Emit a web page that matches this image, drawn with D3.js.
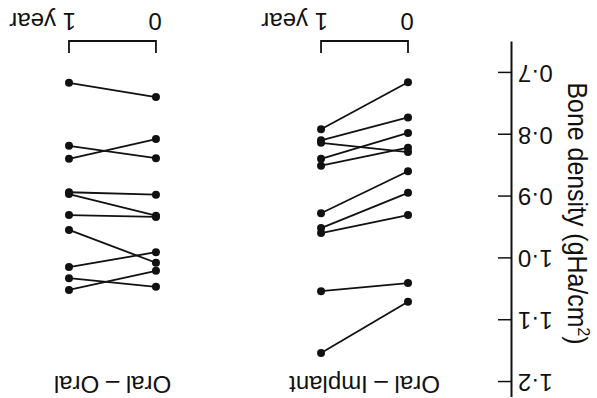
<!DOCTYPE html>
<html>
<head>
<meta charset="utf-8">
<script src="https://cdn.jsdelivr.net/npm/d3@7"></script>
<style>
  body { margin: 0; background: #fff; }
  text { font-family: "Liberation Sans", Arial, sans-serif; fill: #111; }
</style>
</head>
<body>
<svg id="chart" width="597" height="398"></svg>
<script>
// DATA
const groups = ["Oral – Implant", "Oral – Oral"];
const times = ["0", "1 year"];
const yTicks = [0.7, 0.8, 0.9, 1.0, 1.1, 1.2];

// bone density at start (0) and after 1 year, one entry per patient
const implantStart = [0.715, 0.772, 0.797, 0.828, 0.821, 0.859, 0.894, 0.930, 1.040, 1.070];
const implantYear1 = [0.791, 0.809, 0.839, 0.813, 0.850, 0.927, 0.951, 0.959, 1.053, 1.153];
const oralStart = [0.739, 0.838, 0.807, 0.897, 0.931, 0.933, 1.007, 0.990, 1.046, 1.020];
const oralYear1 = [0.716, 0.818, 0.839, 0.893, 0.896, 0.930, 0.954, 1.014, 1.032, 1.051];

const series = [
  { group: groups[0], start: implantStart, year1: implantYear1 },
  { group: groups[1], start: oralStart, year1: oralYear1 }
];

const width = 597, height = 398;
const svg = d3.select("#chart");
svg.append("rect").attr("width", width).attr("height", height).attr("fill", "#fff");

// the figure is printed upside down, so everything is drawn normally and then turned round
const g = svg.append("g").attr("transform", `rotate(180, ${width / 2}, ${height / 2})`);

const y = d3.scaleLinear().domain([0.65, 1.225]).range([356, 0.5]);

const xGroup = d3.scaleBand()
  .domain(groups)
  .range([189, 528])
  .paddingInner(0.655)
  .paddingOuter(0);

const xTime = d3.scalePoint()
  .domain(times)
  .range([0, xGroup.bandwidth()]);

// y axis
const yAxis = d3.axisLeft(y)
  .tickValues(yTicks)
  .tickSizeInner(-14)
  .tickSizeOuter(0)
  .tickPadding(6)
  .tickFormat(d => d3.format(".1f")(d).replace(".", "·"));

const yAxisG = g.append("g")
  .attr("class", "y-axis")
  .attr("transform", "translate(85,0)")
  .call(yAxis);
yAxisG.select(".domain").attr("stroke", "#111").attr("stroke-width", 2);
yAxisG.selectAll(".tick line").attr("stroke", "#111").attr("stroke-width", 1.5);
yAxisG.selectAll(".tick text")
  .attr("font-size", 24)
  .attr("fill", "#111")
  .style("font-family", "'Liberation Sans', Arial, sans-serif");

g.append("text")
  .attr("transform", `translate(29, ${(y(0.7) + y(1.2)) / 2 + 14}) rotate(-90)`)
  .attr("text-anchor", "middle")
  .attr("font-size", 27)
  .attr("textLength", 262)
  .attr("lengthAdjust", "spacingAndGlyphs")
  .text("Bone density (gHa/cm")
  .append("tspan")
    .attr("dy", -10)
    .attr("font-size", 17)
    .text("2")
  .select(function () { return this.parentNode; })
  .append("tspan")
    .attr("dy", 10)
    .text(")");

// one panel per group
series.forEach(s => {
  const x0 = xGroup(s.group);
  const pg = g.append("g").attr("transform", `translate(${x0},0)`);
  const pairs = s.start.map((v, i) => ({ start: v, year1: s.year1[i] }));

  pg.selectAll("line.pair")
    .data(pairs)
    .enter().append("line")
    .attr("class", "pair")
    .attr("x1", xTime("0"))
    .attr("y1", d => y(d.start))
    .attr("x2", xTime("1 year"))
    .attr("y2", d => y(d.year1))
    .attr("stroke", "#111")
    .attr("stroke-width", 1.8);

  const dots = pairs.flatMap(d => [
    { t: "0", v: d.start },
    { t: "1 year", v: d.year1 }
  ]);
  pg.selectAll("circle")
    .data(dots)
    .enter().append("circle")
    .attr("cx", d => xTime(d.t))
    .attr("cy", d => y(d.v))
    .attr("r", 4)
    .attr("fill", "#111");

  // time bracket
  pg.append("path")
    .attr("d", `M${xTime("0")},345V357H${xTime("1 year")}V345`)
    .attr("fill", "none")
    .attr("stroke", "#111")
    .attr("stroke-width", 1.8);

  pg.append("text")
    .attr("x", xTime("0") + 1)
    .attr("y", 385)
    .attr("text-anchor", "middle")
    .attr("font-size", 24)
    .text(times[0]);

  pg.append("text")
    .attr("x", xTime("1 year") - 7)
    .attr("y", 385)
    .attr("text-anchor", "start")
    .attr("font-size", 24)
    .text(times[1]);

  pg.append("text")
    .attr("x", xGroup.bandwidth() / 2)
    .attr("y", 22)
    .attr("text-anchor", "middle")
    .attr("font-size", 24)
    .text(s.group);
});
</script>
</body>
</html>
